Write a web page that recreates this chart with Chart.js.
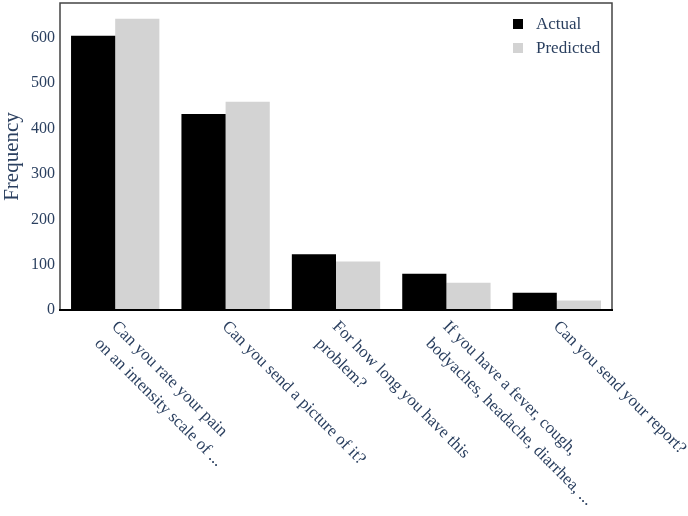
<!DOCTYPE html>
<html>
<head>
<meta charset="utf-8">
<script src="https://cdn.jsdelivr.net/npm/chart.js@4"></script>
<style>
  html, body { margin: 0; padding: 0; background: #ffffff; }
  #wrap { width: 688px; height: 516px; }
</style>
</head>
<body>
<div id="wrap"><canvas id="grafico"></canvas></div>
<script>
// dados
const categorias = [
    ["Can you rate your pain", "on an intensity scale of ..."],
    ["Can you send a picture of it?"],
    ["For how long you have this", "problem?"],
    ["If you have a fever, cough,", "bodyaches, headache, diarrhea, ..."],
    ["Can you send your report?"]
]
const actual = [605, 432, 123, 80, 38]
const predicted = [642, 459, 107, 60, 21]
const yTicks = [0, 100, 200, 300, 400, 500, 600]

const corTexto = "#2a3f5f"
const fonte = "'Liberation Serif', 'Times New Roman', serif"

// rótulos do eixo x inclinados (texto começa no tick e desce para a direita)
const rotulosX = {
    id: "rotulosX",
    afterDraw(chart) {
        const ctx = chart.ctx
        const escala = chart.scales.x
        const base = chart.chartArea.bottom
        ctx.save()
        ctx.fillStyle = corTexto
        ctx.font = "17px " + fonte
        ctx.textAlign = "left"
        ctx.textBaseline = "middle"
        chart.data.labels.forEach((linhas, i) => {
            const x = escala.getPixelForValue(i)
            ctx.save()
            ctx.translate(x - 1, base + 14)
            ctx.rotate(Math.PI / 4)
            linhas.forEach((linha, j) => {
                ctx.fillText(linha, 0, j * 24)
            })
            ctx.restore()
        })
        ctx.restore()
    }
}

// moldura do gráfico e legenda dentro da área
const moldura = {
    id: "moldura",
    afterDatasetsDraw(chart) {
        const ctx = chart.ctx
        const a = chart.chartArea
        ctx.save()
        ctx.strokeStyle = "#444444"
        ctx.lineWidth = 1.5
        ctx.beginPath()
        ctx.moveTo(a.left, a.bottom)
        ctx.lineTo(a.left, a.top)
        ctx.lineTo(a.right, a.top)
        ctx.lineTo(a.right, a.bottom)
        ctx.stroke()
        ctx.strokeStyle = "#000000"
        ctx.lineWidth = 2
        ctx.beginPath()
        ctx.moveTo(a.left - 1, a.bottom)
        ctx.lineTo(a.right + 1, a.bottom)
        ctx.stroke()

        ctx.font = "17px " + fonte
        ctx.textAlign = "left"
        ctx.textBaseline = "middle"
        chart.data.datasets.forEach((ds, i) => {
            const y = a.top + 21 + i * 24
            ctx.fillStyle = ds.backgroundColor
            ctx.fillRect(a.right - 99, y - 5, 10, 10)
            ctx.fillStyle = corTexto
            ctx.fillText(ds.label, a.right - 76, y + 1)
        })
        ctx.restore()
    }
}

const grafico = document.getElementById("grafico")

new Chart(grafico, {
    type: "bar",
    data: {
        labels: categorias,
        datasets: [{
            label: "Actual",
            data: actual,
            backgroundColor: "#000000",
            borderWidth: 0
        }, {
            label: "Predicted",
            data: predicted,
            backgroundColor: "#d3d3d3",
            borderWidth: 0
        }]
    },
    options: {
        responsive: true,
        maintainAspectRatio: false,
        animation: false,
        datasets: {
            bar: {
                categoryPercentage: 0.8,
                barPercentage: 1.0
            }
        },
        layout: {
            padding: { top: 3, right: 76, bottom: 206, left: 0 }
        },
        scales: {
            x: {
                display: false
            },
            y: {
                min: 0,
                max: 677,
                grid: { display: false, drawTicks: false },
                border: { display: false },
                afterFit(escala) {
                    escala.width = 60
                    escala.paddingTop = 0
                    escala.paddingBottom = 0
                },
                afterBuildTicks(escala) {
                    escala.ticks = yTicks.map((v) => ({ value: v }))
                },
                ticks: {
                    padding: 5,
                    color: corTexto,
                    font: { family: fonte, size: 16 }
                },
                title: {
                    display: true,
                    text: "Frequency",
                    color: corTexto,
                    padding: 0,
                    font: { family: fonte, size: 21 }
                }
            }
        },
        plugins: {
            legend: { display: false },
            tooltip: { enabled: false }
        }
    },
    plugins: [rotulosX, moldura]
})
</script>
</body>
</html>
